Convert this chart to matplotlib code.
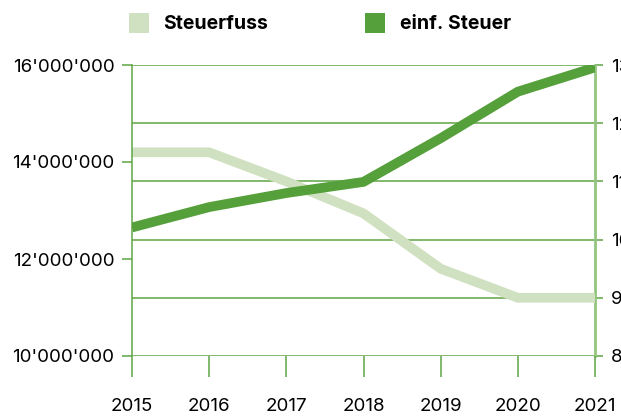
import matplotlib
matplotlib.use("Agg")
from matplotlib import pyplot as plt
from matplotlib.patches import Patch
from matplotlib.ticker import FuncFormatter

plt.rcParams["font.family"] = ["Inter", "DejaVu Sans"]

years = [2015, 2016, 2017, 2018, 2019, 2020, 2021]
steuerfuss = [115, 115, 110, 104.5, 95, 90, 90]
einf_steuer = [12650000, 13070000, 13360000, 13590000, 14490000, 15450000, 15950000]

left_ticks = [10000000, 12000000, 14000000, 16000000]
right_ticks = [80, 90, 100, 110, 120, 130]

dark = "#55a03b"
light = "#d0e1c1"
grid_col = "#5ea545"
spine_light = "#93c57f"

fig = plt.figure(figsize=(6.21, 4.18), dpi=100)
ax = fig.add_axes([132 / 621, 1 - 356 / 418, (595 - 132) / 621, (356 - 65) / 418])
ax2 = ax.twinx()

# left axis drawn on top so the dark line sits above the light one
ax.set_zorder(2)
ax.patch.set_visible(False)
ax2.set_zorder(1)

ax.set_xlim(2015, 2021)
ax.set_ylim(10000000, 16000000)
ax2.set_ylim(80, 130)

# grid lines follow the right axis
for v in right_ticks:
    ax2.axhline(v, color=grid_col, linewidth=1.1, zorder=1)

ax2.plot(years, steuerfuss, color=light, linewidth=7, solid_capstyle="butt",
         solid_joinstyle="miter", zorder=3)
ax.plot(years, einf_steuer, color=dark, linewidth=7, solid_capstyle="butt",
        solid_joinstyle="miter", zorder=4)

fmt = FuncFormatter(lambda v, p: f"{int(v):,}".replace(",", "'"))
ax.set_yticks(left_ticks)
ax.yaxis.set_major_formatter(fmt)
ax.set_xticks(years)
ax.tick_params(axis="y", length=7.2, width=1.1, color=grid_col, labelsize=13.5, pad=5.5)
ax.tick_params(axis="x", length=15, width=1.1, color=grid_col, labelsize=13.5, pad=15)

ax2.set_yticks(right_ticks)
ax2.tick_params(axis="y", length=6, width=1.1, color=grid_col, labelsize=13.5, pad=5.5)

for a in (ax, ax2):
    a.spines["top"].set_visible(False)
    a.spines["bottom"].set_visible(False)
ax.spines["right"].set_visible(False)
ax.spines["left"].set_color(grid_col)
ax.spines["left"].set_linewidth(1.1)
ax2.spines["left"].set_visible(False)
ax2.spines["right"].set_color(spine_light)
ax2.spines["right"].set_linewidth(2)

handles = [Patch(facecolor=light, label="Steuerfuss"),
           Patch(facecolor=dark, label="einf. Steuer")]
fig.legend(handles=handles, ncol=2, loc="upper left",
           bbox_to_anchor=(111 / 621, 1 + 5 / 418), frameon=False,
           prop={"weight": "bold", "size": 14},
           handlelength=1.03, handleheight=1.25, handletextpad=0.75,
           columnspacing=5.0)

fig.savefig("out.png", dpi=100)
